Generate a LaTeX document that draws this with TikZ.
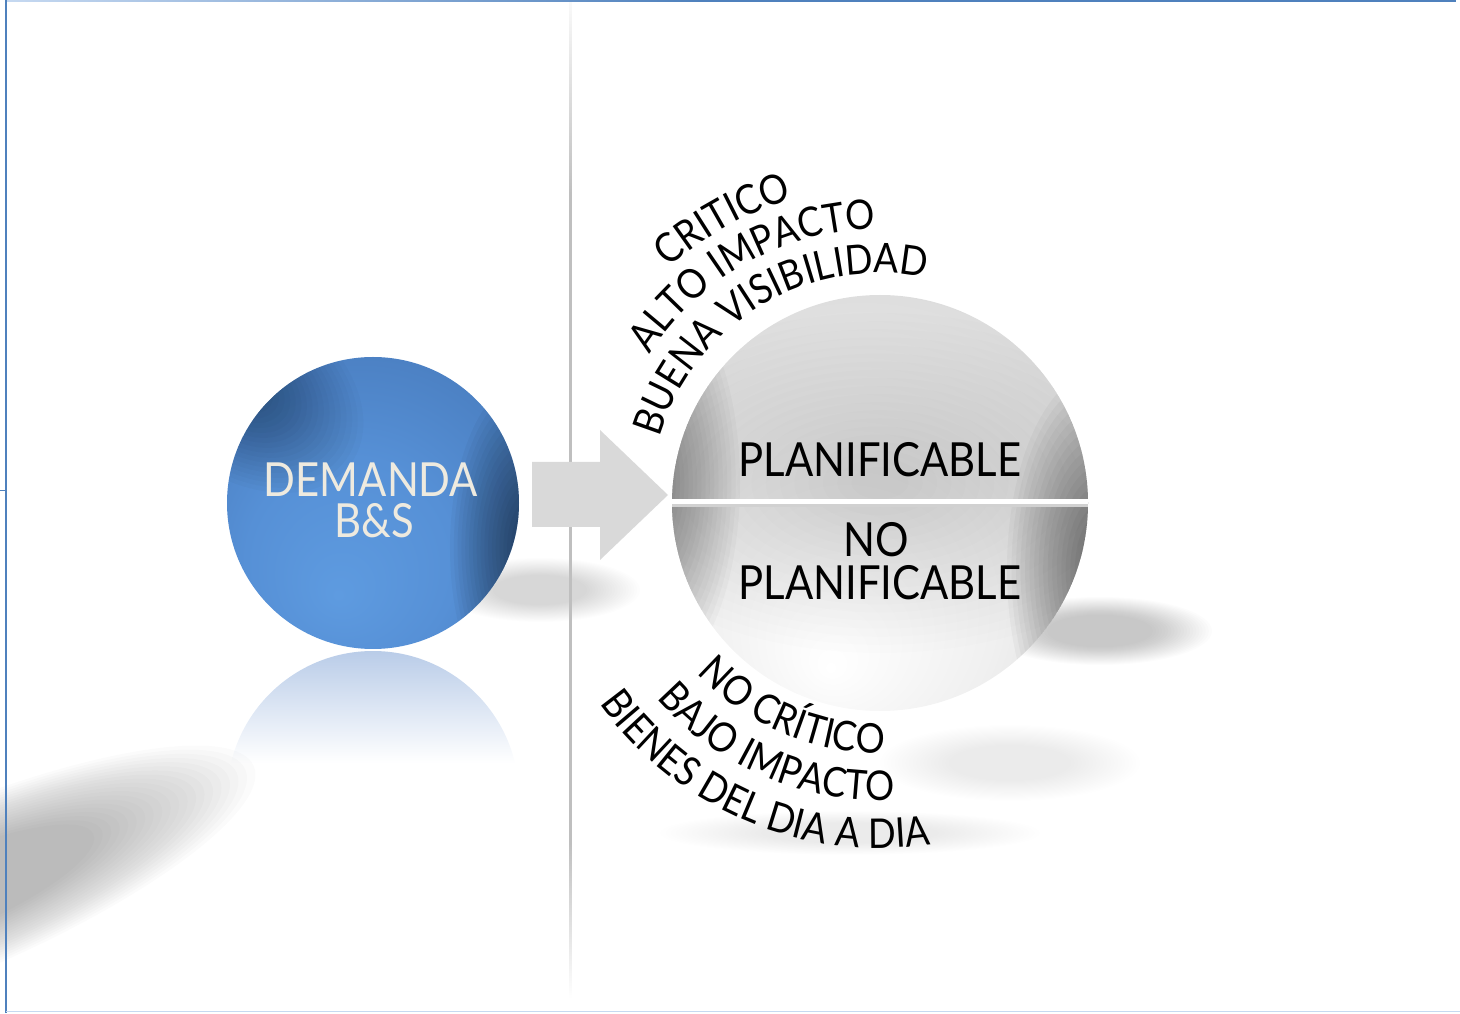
\documentclass[tikz,border=0pt]{standalone}
\usepackage{fontspec}
\setmainfont{Lato}
\newfontfamily\letra[FakeStretch=0.89]{Lato}
\usetikzlibrary{decorations.text,fadings}

\definecolor{marcoazul}{HTML}{4F81BD}
\definecolor{marcoclaro}{HTML}{C6D9F1}
\definecolor{crema}{HTML}{EEEADF}
\definecolor{flechagris}{HTML}{D9D9D9}
\definecolor{azulA}{HTML}{5E9BE0}
\definecolor{azulB}{HTML}{5690D6}
\definecolor{azulC}{HTML}{4A7EC0}
\definecolor{azulD}{HTML}{3F6DA8}
\definecolor{azulE}{HTML}{325A90}
\definecolor{reflejo}{HTML}{B9CCE8}

\pgfdeclareradialshading{esferaazul}{\pgfpoint{-6bp}{-16bp}}{color(0bp)=(azulA); color(18bp)=(azulB); color(34bp)=(azulC); color(45bp)=(azulD); color(50bp)=(azulE)}
\pgfdeclareradialshading{esferagris}{\pgfpoint{-6bp}{-20bp}}{color(0bp)=(white); color(18bp)=(black!6); color(34bp)=(black!14); color(45bp)=(black!20); color(50bp)=(black!28)}

% soft blot: centre, x radius, y radius, angle, opacity of each layer, spread
\newcommand{\mancha}[6]{%
 \foreach \k in {0,...,19}{\fill[black,opacity=#5,rotate around={#4:#1}] #1 ellipse [x radius={#2*(1-\k/#6)},y radius={#3*(1-\k/#6)}];}}

\begin{document}
\begin{tikzpicture}[x=1pt,y=1pt,
 marco/.style ={draw=marcoazul,line width=2pt},
 separador/.style ={fill=black!25},
 esfera/.style ={circle,inner sep=0pt,minimum size=#1},
 rotulo/.style ={anchor=base,font=\letra\fontsize{47}{47}\selectfont},
 arco/.style ={decorate,decoration={text along path,text align=center,text={|\letra\fontsize{41}{41}\selectfont|#1}}}
 ]
\useasboundingbox (0,0) rectangle (1460,1013);
%draw shadows on the floor
\mancha{(-50,118)}{330}{82}{23}{.014}{36}
\mancha{(540,423)}{100}{32}{0}{.0075}{36}
\mancha{(1100,382)}{112}{34}{0}{.0105}{36}
\mancha{(1010,250)}{130}{38}{0}{.002}{36}
\mancha{(850,180)}{190}{22}{0}{.002}{36}
\mancha{(570,520)}{28}{420}{0}{.0012}{36}
%draw separator
\fill[separador,path fading=south] (568.5,15) rectangle (571.5,170);
\fill[separador] (568.5,170) rectangle (571.5,820);
\fill[separador,path fading=north] (568.5,820) rectangle (571.5,1030);
%draw reflection of the blue sphere
\begin{scope}
\clip (373,216) circle (146);
\fill[reflejo,path fading=south] (200,362) rectangle (546,250);
\end{scope}
%draw blue sphere
\node[esfera=292,shading=esferaazul] (demanda) at (373,510) {};
\begin{scope}
\clip (demanda.center) circle (146);
\mancha{(530,465)}{80}{170}{0}{.03}{21}
\mancha{(245,625)}{130}{90}{-35}{.018}{21}
\end{scope}
\node[rotulo,text=crema] (t-demanda) at (371,516) {DEMANDA};
\node[rotulo,text=crema] (t-bys) at (374,475) {B\&S};
%draw gray sphere
\node[esfera=416,shading=esferagris] (planif) at (880,510) {};
\begin{scope}
\clip (planif.center) circle (208);
\mancha{(880,530)}{300}{170}{0}{.008}{21}
\mancha{(1102,443)}{95}{200}{0}{.032}{21}
\mancha{(650,530)}{90}{200}{0}{.024}{21}
\fill[black!18] (660,506) rectangle (1100,509);
\fill[white] (660,509) rectangle (1100,514);
\end{scope}
\node[rotulo] (t-planif) at (880,536) {PLANIFICABLE};
\node[rotulo] (t-no) at (876,456) {NO};
\node[rotulo] (t-noplanif) at (880,413) {PLANIFICABLE};
%draw arrow
\fill[flechagris] (532,486) -- (600,486) -- (600,453) -- (668,518) -- (600,583) -- (600,551) -- (532,551) -- cycle;
%draw curved texts
\path[arco={CRITICO}] (planif.center) ++(179:316) arc[start angle=179,end angle=59,radius=316];
\path[arco={ALTO IMPACTO}] (planif.center) ++(179:274) arc[start angle=179,end angle=59,radius=274];
\path[arco={BUENA VISIBILIDAD}] (planif.center) ++(181:230) arc[start angle=181,end angle=61,radius=230];
\path[arco={NO CRÍTICO}] (planif.center) ++(187:250) arc[start angle=187,end angle=307,radius=250];
\path[arco={BAJO IMPACTO}] (planif.center) ++(187:297) arc[start angle=187,end angle=307,radius=297];
\path[arco={BIENES DEL DIA A DIA}] (planif.center) ++(187:345) arc[start angle=187,end angle=307,radius=345];
%draw frame
\fill[left color=marcoclaro,right color=marcoazul] (5,1011) rectangle (700,1013);
\fill[marcoazul] (700,1011) rectangle (1456,1013);
\draw[marco] (6,0) -- (6,1013);
\draw[marco,line width=1pt] (0,522) -- (6,522);
\draw[marcoclaro,line width=1.5pt] (6,1.5) -- (1460,1.5);
\end{tikzpicture}
\end{document}
